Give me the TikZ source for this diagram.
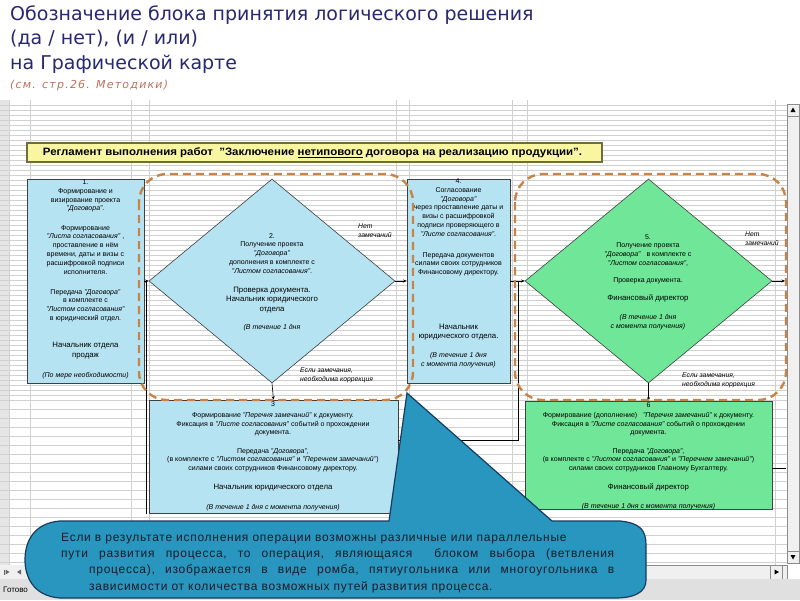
\documentclass[tikz,border=0pt]{standalone}
\usepackage{fontspec}
\setmainfont{Liberation Sans}
\newfontfamily\titlefont{DejaVu Sans}
\newfontfamily\subfont[LetterSpace=11]{DejaVu Sans}
\newfontfamily\callfont[LetterSpace=6]{Liberation Sans}
\usetikzlibrary{shapes.geometric,arrows.meta}
\definecolor{boxblue}{RGB}{182,227,242}
\definecolor{boxgreen}{RGB}{112,230,152}
\definecolor{dashor}{RGB}{198,132,72}
\definecolor{teal1}{RGB}{40,150,190}
\definecolor{tealb}{RGB}{22,60,96}
\definecolor{titleblue}{RGB}{40,40,112}
\definecolor{subred}{RGB}{192,112,92}
\definecolor{hdryel}{RGB}{248,246,160}
\definecolor{hdrbord}{RGB}{110,110,60}
\definecolor{gridc}{RGB}{208,208,208}
\definecolor{calltext}{RGB}{28,28,40}
\tikzset{
  grid/.style={draw=gridc, line width=0.4pt},
  box/.style={rectangle, draw=black!75, line width=0.6pt, inner sep=0pt},
  dia/.style={diamond, draw=black!75, line width=0.6pt, inner sep=0pt},
  txt/.style={inner sep=0pt, anchor=north, align=center, font=\fontsize{7}{8.8}\selectfont},
  txtb/.style={inner sep=0pt, anchor=north, align=center, font=\fontsize{7.8}{9.6}\selectfont},
  lbl/.style={inner sep=0pt, anchor=north west, align=left, font=\itshape\fontsize{6.8}{9}\selectfont},
  arr/.style={-{Stealth[length=3.5pt,width=3pt]}, line width=0.6pt, draw=black},
  conn/.style={line width=0.6pt, draw=black},
  dreg/.style={draw=dashor, line width=2.4pt, dash pattern=on 8pt off 5pt, rounded corners=28pt},
  ttl/.style={anchor=base west, inner sep=0pt, font=\titlefont\fontsize{19}{22}\selectfont, text=titleblue},
  calltxt/.style={inner sep=0pt, anchor=base west, text=calltext, font=\callfont\fontsize{12}{14}\selectfont}
}
\begin{document}
\begin{tikzpicture}[x=1pt,y=-1pt]
\useasboundingbox (0,0) rectangle (800,600);
\fill[white] (0,0) rectangle (800,600);

% ---- title ----
\node[ttl] (t1) at (10,20.5) {Обозначение блока принятия логического решения};
\node[ttl] (t2) at (10,44) {(да / нет), (и / или)};
\node[ttl] (t3) at (10,69.5) {на Графической карте};
\node[anchor=base west, inner sep=0pt, font=\subfont\itshape\fontsize{11}{12}\selectfont, text=subred] (t4) at (10,88) {(см. стр.26. Методики)};

% ---- spreadsheet grid ----
\fill[black!10] (0,100) rectangle (9,565);
\foreach \y in {105,110,...,400} \draw[grid] (0,\y) -- (787,\y);
\foreach \y in {409,418,...,562} \draw[grid] (0,\y) -- (787,\y);
\foreach \x in {9,30,131,149,396,409,512,527,775} \draw[grid] (\x,100) -- (\x,565);

% ---- header ----
\node[rectangle, draw=hdrbord, fill=hdryel, line width=1.4pt, minimum width=575pt, minimum height=19pt, inner sep=0pt] (hdr) at (314.5,152.5) {};
\node[inner sep=0pt, font=\bfseries] (hdrt) at (312.5,152.5) {\resizebox{539pt}{7.8pt}{Регламент выполнения работ~~"Заключение \underline{нетипового} договора на реализацию продукции".}};

% ---- shapes ----
\node[box, fill=boxblue, minimum width=117pt, minimum height=204pt] (b1) at (85.5,281) {};
\node[box, fill=boxblue, minimum width=103pt, minimum height=204pt] (b4) at (458.5,281) {};
\node[dia, fill=boxblue, minimum width=246pt, minimum height=204pt] (d2) at (272,281) {};
\node[dia, fill=boxgreen, minimum width=247pt, minimum height=204pt] (d5) at (648.5,281) {};
\node[box, fill=boxblue, minimum width=249pt, minimum height=113pt] (b3) at (273.5,456.5) {};
\node[box, fill=boxgreen, minimum width=247pt, minimum height=108pt] (b6) at (648.5,455) {};

% ---- connectors ----
\coordinate (j1) at (146,281);
\coordinate (j1b) at (146,514);
\coordinate (j2) at (518,281);
\coordinate (j3) at (518,440);
\coordinate (o1) at (785,281);
\coordinate (o2) at (786,468);
\draw[arr] (b1.east) -- (d2.west);
\draw[conn] (j1b) -- (j1);
\draw[arr] (d2.south) -- (b3.north);
\draw[arr] (d2.east) -- (b4.west);
\draw[arr] (b4.east) -- (d5.west);
\draw[conn] (b3.east |- j3) -- (j3) -- (j2);
\draw[arr] (d5.south) -- (b6.north);
\draw[arr] (d5.east) -- (o1);
\draw[conn] (b6.east |- o2) -- (o2);

% ---- box 1 text ----
\node[txt] (p1a) at (85.5,179.5) {1.\\Формирование и\\визирование проекта\\\textit{"Договора"}.};
\node[txt] (p1b) at (85.5,225) {Формирование\\\textit{"Листа согласования"} ,\\проставление в нём\\времени, даты и визы с\\расшифровкой подписи\\исполнителя.};
\node[txt] (p1c) at (85.5,289) {Передача \textit{"Договора"}\\в комплекте с\\\textit{"Листом согласования"}\\в юридический отдел.};
\node[txtb] (p1d) at (85.5,342) {Начальник отдела\\продаж};
\node[txt] (p1e) at (85.5,372) {\textit{(По мере необходимости)}};

% ---- diamond 2 text ----
\node[txt] (p2a) at (272,233) {2.\\Получение проекта\\\textit{"Договора"}\\дополнения в комплекте с\\\textit{"Листом согласования"}.};
\node[txtb] (p2b) at (272,286.5) {Проверка документа.\\Начальник юридического\\отдела};
\node[txt] (p2c) at (272,324) {\textit{(В течение 1 дня}};

% ---- box 4 text ----
\node[txt] (p4a) at (458.5,178.5) {4.\\Согласование\\\textit{"Договора"}\\через проставление даты и\\визы с расшифровкой\\подписи проверяющего в\\\textit{"Листе согласования"}.};
\node[txt] (p4b) at (458.5,252) {Передача документов\\силами своих сотрудников\\Финансовому директору.};
\node[txtb] (p4c) at (458.5,323.5) {Начальник\\юридического отдела.};
\node[txt] (p4d) at (458.5,352) {\textit{(В течение 1 дня}\\\textit{с момента получения)}};

% ---- diamond 5 text ----
\node[txt] (p5a) at (648,234) {5.\\Получение проекта\\\textit{"Договора"}~~ в комплекте с\\\textit{"Листом согласования"},};
\node[txt] (p5b) at (648,277) {Проверка документа.};
\node[txtb] (p5c) at (648,294.5) {Финансовый директор};
\node[txt] (p5d) at (648,314) {\textit{(В течение 1 дня}\\\textit{с момента получения)}};

% ---- box 3 text ----
\node[txt] (p3n) at (273,401.5) {3};
\node[txt] (p3a) at (273,412) {Формирование \textit{"Перечня замечаний"} к документу.\\Фиксация в \textit{"Листе согласования"} событий о прохождении\\документа.};
\node[txt] (p3b) at (273,448) {Передача \textit{"Договора"},\\(в комплекте с \textit{"Листом согласования"} и \textit{"Перечнем замечаний"})\\силами своих сотрудников Финансовому директору.};
\node[txtb] (p3c) at (273,484) {Начальник юридического отдела};
\node[txt] (p3d) at (273,504) {\textit{(В течение 1 дня с момента получения)}};

% ---- box 6 text ----
\node[txt] (p6n) at (648.5,402) {6};
\node[txt] (p6a) at (648.5,412) {Формирование (дополнение)~~ \textit{"Перечня замечаний"} к документу.\\Фиксация в \textit{"Листе согласования"} событий о прохождении\\документа.};
\node[txt] (p6b) at (648.5,448) {Передача \textit{"Договора"},\\(в комплекте с \textit{"Листом согласования"} и \textit{"Перечнем замечаний"})\\силами своих сотрудников Главному Бухгалтеру.};
\node[txtb] (p6c) at (648.5,484) {Финансовый директор};
\node[txt] (p6d) at (648.5,503) {\textit{(В течение 1 дня с момента получения)}};

% ---- labels ----
\node[lbl] (l2a) at (358,224) {Нет\\замечаний};
\node[lbl] (l2b) at (300,368) {Если замечания,\\необходима коррекция};
\node[lbl] (l5a) at (745,232) {Нет\\замечаний};
\node[lbl] (l5b) at (682,373) {Если замечания,\\необходима коррекция};

% ---- dashed groups ----
\draw[dreg] (139,174) rectangle (413,400);
\draw[dreg] (515,174) rectangle (786,400);

% ---- scrollbars & status ----
\fill[black!6] (787,104) rectangle (799,563);
\draw[black!45, line width=0.5pt] (787,104) rectangle (799,563);
\draw[black!45, line width=0.5pt] (787,104) rectangle (799,116);
\fill[black] (793,107.5) -- (790.5,112) -- (795.5,112) -- cycle;
\draw[black!45, line width=0.5pt] (787,551) rectangle (799,563);
\fill[black] (793,559.5) -- (790.5,555) -- (795.5,555) -- cycle;
\fill[black!6] (0,565) rectangle (787,579);
\draw[black!45, line width=0.5pt] (40,565) rectangle (787,579);
\draw[black!45, line width=0.5pt] (770,565) rectangle (782,579);
\fill[black] (779,572) -- (774.5,569.5) -- (774.5,574.5) -- cycle;
\fill[black!60] (4,569.5) rectangle (5,574.5);
\fill[black!60] (9.5,572) -- (5.5,569.5) -- (5.5,574.5) -- cycle;
\fill[black!60] (17,572) -- (21,569.5) -- (21,574.5) -- cycle;
\fill[black!12] (0,579) rectangle (800,600);
\node[anchor=base west, inner sep=0pt, font=\fontsize{8}{9}\selectfont] (st) at (3,592) {Готово};

% ---- callout ----
\draw[fill=teal1, draw=tealb, line width=1.2pt]
  (60,521) -- (389,521) -- (407,393) -- (552,521) -- (620,521)
  .. controls (640,523) and (646,530) .. (646,545) -- (646,580)
  .. controls (646,592) and (635,598) .. (615,598) -- (60,598)
  .. controls (32,596) and (25,575) .. (25,560)
  .. controls (25,540) and (35,523) .. (60,521) -- cycle;
\node[calltxt] (c1) at (61,541) {Если в результате исполнения операции возможны различные или параллельные};
\node[calltxt] (c2) at (61,557) {\hbox to 553pt{пути\hfill развития\hfill процесса,\hfill то\hfill операция,\hfill являющаяся\hfill\hfill блоком\hfill выбора\hfill (ветвления}};
\node[calltxt] (c3) at (89,573) {\hbox to 525pt{процесса),\hfill изображается\hfill в\hfill виде\hfill ромба,\hfill пятиугольника\hfill или\hfill многоугольника\hfill в}};
\node[calltxt] (c4) at (89,590) {зависимости от количества возможных путей развития процесса.};
\end{tikzpicture}
\end{document}
